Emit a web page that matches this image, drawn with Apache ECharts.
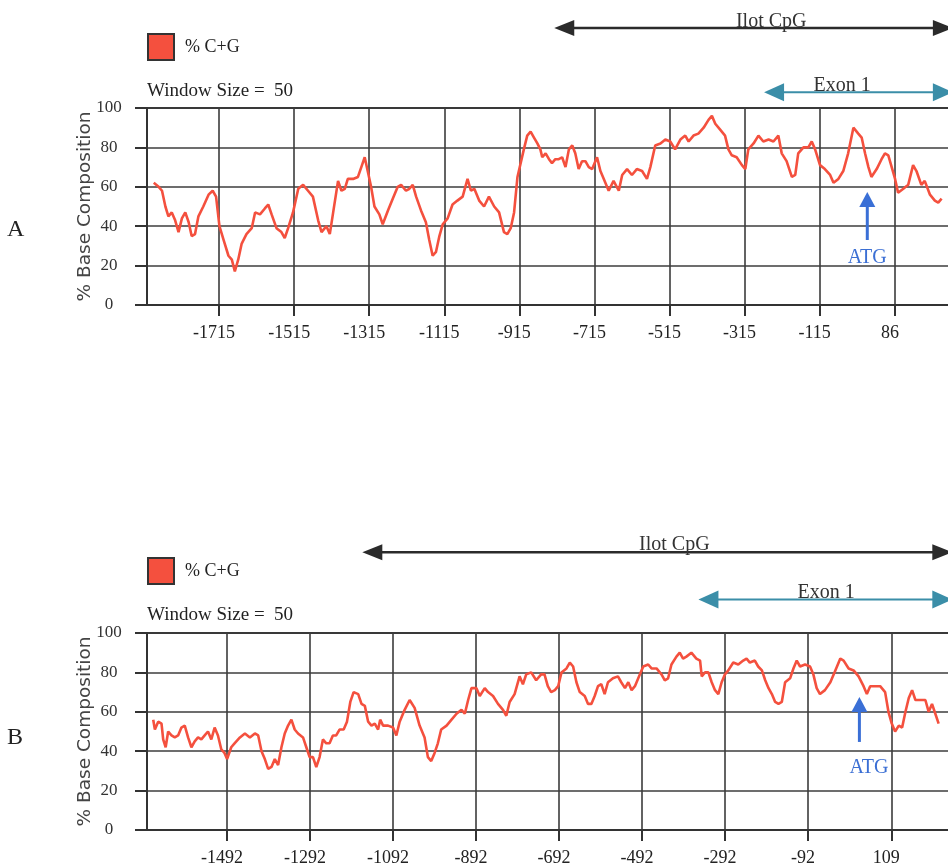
<!DOCTYPE html>
<html>
<head>
<meta charset="utf-8">
<script src="https://cdn.jsdelivr.net/npm/echarts@6/dist/echarts.min.js"></script>
<style>html,body{margin:0;padding:0;background:#fff;}</style>
</head>
<body>
<div id="main" style="width:948px;height:868px;"></div>
<script type="text/javascript">
// tick positions (bp) printed under each panel
var ticksA = [-1715, -1515, -1315, -1115, -915, -715, -515, -315, -115, 86];
var ticksB = [-1492, -1292, -1092, -892, -692, -492, -292, -92, 109];

// panel A : position (bp) / % C+G
var posA = [-1889,-1876,-1867,-1858,-1850,-1841,-1832,-1823,-1814,-1805,
  -1796,-1788,-1779,-1770,-1757,-1743,-1732,-1723,-1714,-1703,
  -1690,-1681,-1673,-1664,-1655,-1642,-1628,-1619,-1606,-1593,
  -1584,-1575,-1562,-1549,-1540,-1531,-1518,-1504,-1491,-1478,
  -1465,-1451,-1442,-1429,-1420,-1411,-1398,-1389,-1380,-1372,
  -1358,-1345,-1336,-1327,-1319,-1310,-1301,-1288,-1279,-1265,
  -1252,-1239,-1230,-1217,-1208,-1199,-1190,-1177,-1164,-1155,
  -1146,-1137,-1128,-1119,-1106,-1093,-1080,-1066,-1053,-1044,
  -1035,-1022,-1009,-996,-982,-969,-956,-947,-938,-929,
  -920,
  -903,-894,-885,-876,-867,-859,-854,-845,-836,-828,
  -819,-810,-801,-792,-783,-774,-766,-757,-748,-739,
  -730,-721,-708,-699,-690,-677,-664,-650,-641,-628,
  -615,-602,-588,-575,-566,-553,-539,-526,-513,-500,
  -486,-473,-464,-451,-438,-424,-411,-402,-393,-380,
  -367,-358,-349,-336,-322,-313,-305,-291,-278,-265,
  -251,-238,-225,-216,-203,-189,-180,-172,-158,-145,
  -136,-127,-114,-101,-87,-78,-65,-52,-39,-25,
  -12,-3,6,15,23,37,50,59,68,77,
  86,94,108,121,134,143,156,165,179,192,
  201,210];
var gcA = [62,60,58,50,45,47,43,37,44,47,
  42,35,36,45,50,56,58,55,40,33,
  25,23,17,23,31,36,39,47,46,49,
  51,46,39,37,34,39,47,59,61,58,
  55,43,37,40,36,47,63,58,59,64,
  64,65,70,75,68,60,50,46,41,48,
  54,60,61,58,59,61,55,48,42,33,
  25,27,35,41,44,51,53,55,64,58,
  59,53,50,55,50,47,37,36,39,47,
  65,
  79,86,88,85,82,79,75,77,74,72,
  74,74,75,70,79,81,77,69,73,73,
  70,69,75,68,64,58,63,58,66,69,
  66,69,68,64,70,81,82,84,83,79,
  84,86,83,86,87,90,94,96,92,89,
  86,79,76,75,71,69,79,82,86,83,
  84,83,86,77,73,65,66,77,80,80,
  83,79,71,69,66,62,64,68,77,90,
  87,85,77,70,65,69,74,77,76,70,
  64,57,59,61,71,68,61,63,56,53,
  52,54];

// panel B : position (bp) / % C+G
var posB = [-1670,-1666,-1658,-1650,-1646,-1640,-1634,-1626,-1618,-1610,
  -1602,-1594,-1586,-1578,-1570,-1562,-1554,-1546,-1538,-1530,
  -1522,-1514,-1506,-1498,-1492,-1482,-1474,-1461,-1449,-1437,
  -1425,-1417,-1409,-1401,-1393,-1385,-1377,-1369,-1361,-1353,
  -1345,-1337,-1329,-1321,-1309,-1301,-1293,-1285,-1277,-1269,
  -1261,-1253,-1245,-1237,-1229,-1221,-1211,-1203,-1195,-1187,
  -1176,-1168,-1160,-1152,-1144,-1136,-1128,-1123,-1116,-1104,
  -1092,-1084,-1076,-1064,-1052,-1040,-1028,-1016,-1008,-1000,
  -992,-984,-976,-963,-951,-939,-927,-919,-911,-903,
  -891,-883,-871,-863,-851,-839,-827,-819,-811,-799,
  -787,-779,-771,-759,-747,
  -735,-727,-719,-711,-702,-694,-686,-674,-666,-658,
  -650,-642,-630,-622,-614,-606,-598,-590,-582,-574,
  -562,-550,-542,-533,-525,-517,-509,-501,-489,-477,
  -469,-457,-445,-437,-429,-421,-409,-401,-393,-385,
  -373,-361,-352,-348,-340,-332,-324,-316,-308,-300,
  -292,-284,-272,-260,-248,-240,-232,-220,-212,-203,
  -195,-187,-179,-171,-163,-155,-147,-135,-127,-119,
  -111,-99,-87,-79,-71,-63,-51,-38,-26,-14,
  -6,6,18,30,42,50,58,70,82,94,
  102,110,118,127,135,143,151,159,167,179,
  191,199,207,215,223];
var gcB = [56,51,55,54,46,42,50,48,47,48,
  52,53,47,42,45,47,46,48,50,46,
  52,48,41,39,36,42,44,47,49,47,
  49,48,40,36,31,32,36,33,42,49,
  53,56,51,49,47,42,37,37,32,37,
  46,44,44,48,48,51,51,55,65,70,
  69,64,63,55,53,54,51,56,53,53,
  52,48,55,61,66,62,53,47,37,35,
  39,44,51,53,56,59,61,59,66,72,
  72,68,72,70,68,64,61,58,65,69,
  78,74,79,80,76,
  79,79,73,70,71,73,80,82,85,83,
  75,70,68,64,64,68,73,74,69,75,
  77,78,75,72,75,71,73,77,83,84,
  82,82,79,76,77,84,88,90,87,88,
  90,87,86,78,80,80,75,71,69,75,
  79,81,85,84,86,87,85,86,83,81,
  76,72,69,65,64,65,75,77,82,86,
  83,84,83,79,72,69,71,75,81,87,
  86,82,81,78,73,69,73,73,73,70,
  60,54,50,53,52,60,67,71,66,66,
  66,60,64,59,54];

// annotation positions (bp)
var ilotStart = [-822, -1166];
var exonStart = [-263, -356];
var atgPos = [12, 32];

var serif = '"Liberation Serif", "Times New Roman", serif';
var lineColor = '#f4503e';
var gridColor = '#3c3c3c';

function pairs(xs, ys) {
    return xs.map(function (x, i) { return [x, ys[i]]; });
}

function xAxisFor(gi, ticks, min, max) {
    return {
        type: 'value', gridIndex: gi, min: min, max: max,
        axisLine: {show: true, onZero: false, lineStyle: {color: '#333', width: 2}},
        axisTick: {show: true, customValues: ticks, length: 11, lineStyle: {color: '#333', width: 2}},
        axisLabel: {show: true, customValues: ticks, margin: 19, fontFamily: serif, fontSize: 18,
            color: '#222', padding: [0, 10, 0, 0],
            formatter: function (v) { return String(v); }},
        splitLine: {show: true, lineStyle: {color: gridColor, width: 1.6}}
    };
}

function yAxisFor(gi) {
    return {
        type: 'value', gridIndex: gi, min: 0, max: 100, interval: 20,
        name: '% Base Composition', nameLocation: 'middle', nameGap: 52, nameMoveOverlap: false,
        nameTextStyle: {fontFamily: '"DejaVu Sans", sans-serif', fontSize: 18.5, color: '#444'},
        axisLine: {show: true, onZero: false, lineStyle: {color: '#333', width: 2}},
        axisTick: {show: true, length: 12, lineStyle: {color: '#333', width: 2}},
        axisLabel: {fontFamily: serif, fontSize: 17, color: '#333', align: 'center', margin: 38},
        splitLine: {show: true, lineStyle: {color: gridColor, width: 1.6}}
    };
}

function legendAt(top) {
    return {
        left: 147, top: top, padding: 0, icon: 'rect', itemWidth: 26, itemHeight: 26,
        data: ['% C+G'], selectedMode: false,
        itemStyle: {color: lineColor, borderColor: '#333', borderWidth: 2},
        textStyle: {fontFamily: serif, fontSize: 18, color: '#222', padding: [0, 0, 0, 6]}
    };
}

var myChart = echarts.init(document.getElementById('main'));
myChart.setOption({
    animation: false,
    backgroundColor: '#fff',
    legend: [legendAt(33), legendAt(557)],
    grid: [
        {left: 147, top: 108, width: 810, height: 197, show: true, borderColor: '#333', borderWidth: 2, outerBoundsMode: 'none'},
        {left: 147, top: 633, width: 807, height: 197, show: true, borderColor: '#333', borderWidth: 2, outerBoundsMode: 'none'}
    ],
    xAxis: [xAxisFor(0, ticksA, -1907, 251), xAxisFor(1, ticksB, -1685, 260)],
    yAxis: [yAxisFor(0), yAxisFor(1)],
    series: [
        {type: 'line', name: '% C+G', xAxisIndex: 0, yAxisIndex: 0, data: pairs(posA, gcA),
            showSymbol: false, symbol: 'none', lineStyle: {color: lineColor, width: 2.6}, itemStyle: {color: lineColor}},
        {type: 'line', name: '% C+G', xAxisIndex: 1, yAxisIndex: 1, data: pairs(posB, gcB),
            showSymbol: false, symbol: 'none', lineStyle: {color: lineColor, width: 2.6}, itemStyle: {color: lineColor}}
    ]
});

// arrows and labels above the plots, placed through the axes
function px(gi, x, y) {
    return myChart.convertToPixel({gridIndex: gi}, [x, y]);
}

function hArrow(gi, x0, x1, yv, color, w, hl, hw) {
    var a = px(gi, x0, yv), b = px(gi, x1, yv);
    return [
        {type: 'line', shape: {x1: a[0] + hl - 2, y1: a[1], x2: b[0] - hl + 2, y2: b[1]},
            style: {stroke: color, lineWidth: w}},
        {type: 'polygon', shape: {points: [[a[0], a[1]], [a[0] + hl, a[1] - hw], [a[0] + hl, a[1] + hw]]},
            style: {fill: color}},
        {type: 'polygon', shape: {points: [[b[0], b[1]], [b[0] - hl, b[1] - hw], [b[0] - hl, b[1] + hw]]},
            style: {fill: color}}
    ];
}

function label(gi, x, yv, text, color, size) {
    var p = px(gi, x, yv);
    return {type: 'text', x: p[0], y: p[1],
        style: {text: text, fill: color, font: size + 'px ' + serif, align: 'center', verticalAlign: 'middle'}};
}

var g = [];
var arrowEnd = [240, 256];
var ilotY = [140.6, 141], ilotTextX = [-244, -414], ilotTextY = [144, 145];
var exonY = [108, 117], exonTextX = [-55, -48], exonTextY = [111.5, 120.5];
var atgTip = [57.4, 67.5], atgTail = [33, 44.7], atgTextY = [24, 31.5], atgTextX = [12, 55];

for (var gi = 0; gi < 2; gi++) {
    g = g.concat(hArrow(gi, ilotStart[gi], arrowEnd[gi], ilotY[gi], '#2b2b2b', 2.5, 20, 8));
    g.push(label(gi, ilotTextX[gi], ilotTextY[gi], 'Ilot CpG', '#333', 20));
    g = g.concat(hArrow(gi, exonStart[gi], arrowEnd[gi], exonY[gi], '#3b8ea8', 2, 20, 9));
    g.push(label(gi, exonTextX[gi], exonTextY[gi], 'Exon 1', '#333', 20));
    var t = px(gi, atgPos[gi], atgTip[gi]), e = px(gi, atgPos[gi], atgTail[gi]);
    g.push({type: 'line', shape: {x1: t[0], y1: t[1] + 12, x2: e[0], y2: e[1]},
        style: {stroke: '#3a6fd6', lineWidth: 3}});
    g.push({type: 'polygon', shape: {points: [[t[0], t[1]], [t[0] - 8, t[1] + 15], [t[0] + 8, t[1] + 15]]},
        style: {fill: '#3a6fd6'}});
    g.push(label(gi, atgTextX[gi], atgTextY[gi], 'ATG', '#3b6fd4', 20));
}

g.push({type: 'text', left: 147, top: 82, style: {text: 'Window Size =  50', fill: '#222', font: '19px ' + serif}});
g.push({type: 'text', left: 147, top: 606, style: {text: 'Window Size =  50', fill: '#222', font: '19px ' + serif}});
g.push({type: 'text', left: 7, top: 218, style: {text: 'A', fill: '#222', font: '24px ' + serif}});
g.push({type: 'text', left: 7, top: 726, style: {text: 'B', fill: '#222', font: '24px ' + serif}});

myChart.setOption({graphic: g});
</script>
</body>
</html>
